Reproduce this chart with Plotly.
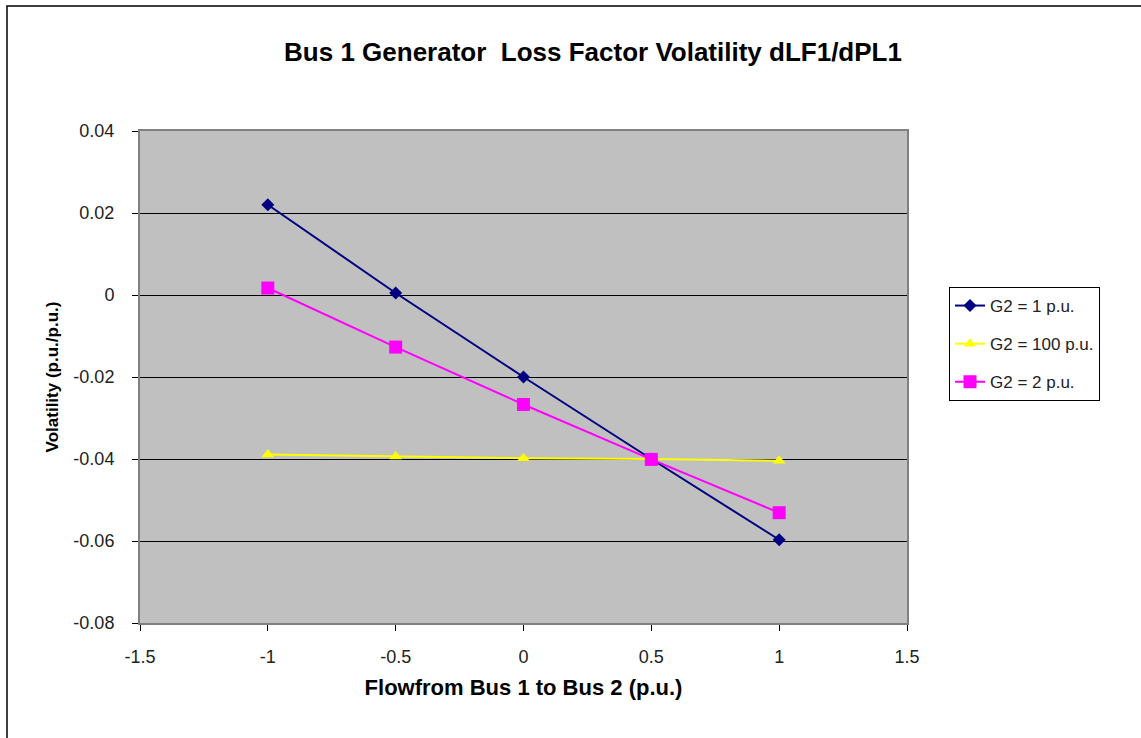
import plotly.graph_objects as go

flow = [-1, -0.5, 0, 0.5, 1]
g2_1 = [0.022, 0.0005, -0.020, -0.040, -0.0597]
g2_100 = [-0.0389, -0.0394, -0.0398, -0.0400, -0.0404]
g2_2 = [0.0017, -0.0127, -0.0267, -0.0401, -0.0531]

x_ticks = [-1.5, -1, -0.5, 0, 0.5, 1, 1.5]
x_ticktext = ["-1.5", "-1", "-0.5", "0", "0.5", "1", "1.5"]
y_ticks = [-0.08, -0.06, -0.04, -0.02, 0, 0.02, 0.04]
y_ticktext = ["-0.08", "-0.06", "-0.04", "-0.02", "0", "0.02", "0.04"]

names = ["G2 = 1 p.u.", "G2 = 100 p.u.", "G2 = 2 p.u."]
colors = ["#000080", "#FFFF00", "#FF00FF"]
symbols = ["diamond", "triangle-up", "square"]
sizes = [10, 11, 13]

fig = go.Figure()
for i, ys in enumerate([g2_1, g2_100, g2_2]):
    fig.add_trace(go.Scatter(
        x=flow, y=ys, mode="lines+markers", name=names[i],
        legendgroup=f"g{i}",
        line=dict(color=colors[i], width=2),
        marker=dict(symbol=symbols[i], size=sizes[i], color=colors[i]),
    ))

L, R, T, B = 140, 907, 131, 623
W, H = 1141, 738

fig.update_layout(
    width=W, height=H,
    margin=dict(l=L, r=W - R, t=T, b=H - B),
    paper_bgcolor="white",
    plot_bgcolor="#C0C0C0",
    font=dict(family="Liberation Sans, Arial", color="black", size=17),
    title=dict(text="<b>Bus 1 Generator  Loss Factor Volatility dLF1/dPL1</b>",
               x=593 / W, xanchor="center", y=1 - 52 / H, yanchor="middle",
               font=dict(size=26)),
    legend=dict(x=(949 - L) / (R - L), y=(B - 287) / (B - T), xanchor="left", yanchor="top",
                bgcolor="white", bordercolor="black", borderwidth=1,
                font=dict(size=17, color="#222222"), tracegroupgap=13),
    showlegend=True,
)
fig.update_xaxes(
    range=[-1.5, 1.5], tickvals=x_ticks, ticktext=x_ticktext,
    showgrid=False, zeroline=False,
    showline=True, linecolor="#808080", linewidth=2, mirror=True,
    ticks="outside", ticklen=6, tickcolor="black",
    ticklabelstandoff=10,
    tickfont=dict(size=18, color="#222222"),
    title=dict(text="<b>Flowfrom Bus 1 to Bus 2 (p.u.)</b>", font=dict(size=22), standoff=14),
)
fig.update_yaxes(
    range=[-0.08, 0.04], tickvals=y_ticks, ticktext=y_ticktext,
    showgrid=True, gridcolor="black", gridwidth=1,
    zeroline=False,
    showline=True, linecolor="#808080", linewidth=2, mirror=True,
    ticks="outside", ticklen=6, tickcolor="black",
    ticklabelstandoff=14,
    tickfont=dict(size=18, color="#222222"),
    title=dict(text="<b>Volatility (p.u./p.u.)</b>", font=dict(size=17), standoff=10),
)
# outer chart border (left and top visible)
fig.add_shape(type="rect", xref="paper", yref="paper",
              x0=(7 - L) / (R - L), x1=(W + 20 - L) / (R - L),
              y0=(B - (H + 20)) / (B - T), y1=(B - 6) / (B - T),
              line=dict(color="black", width=1.5), fillcolor="rgba(0,0,0,0)", layer="above")

fig.write_html("out.html")
